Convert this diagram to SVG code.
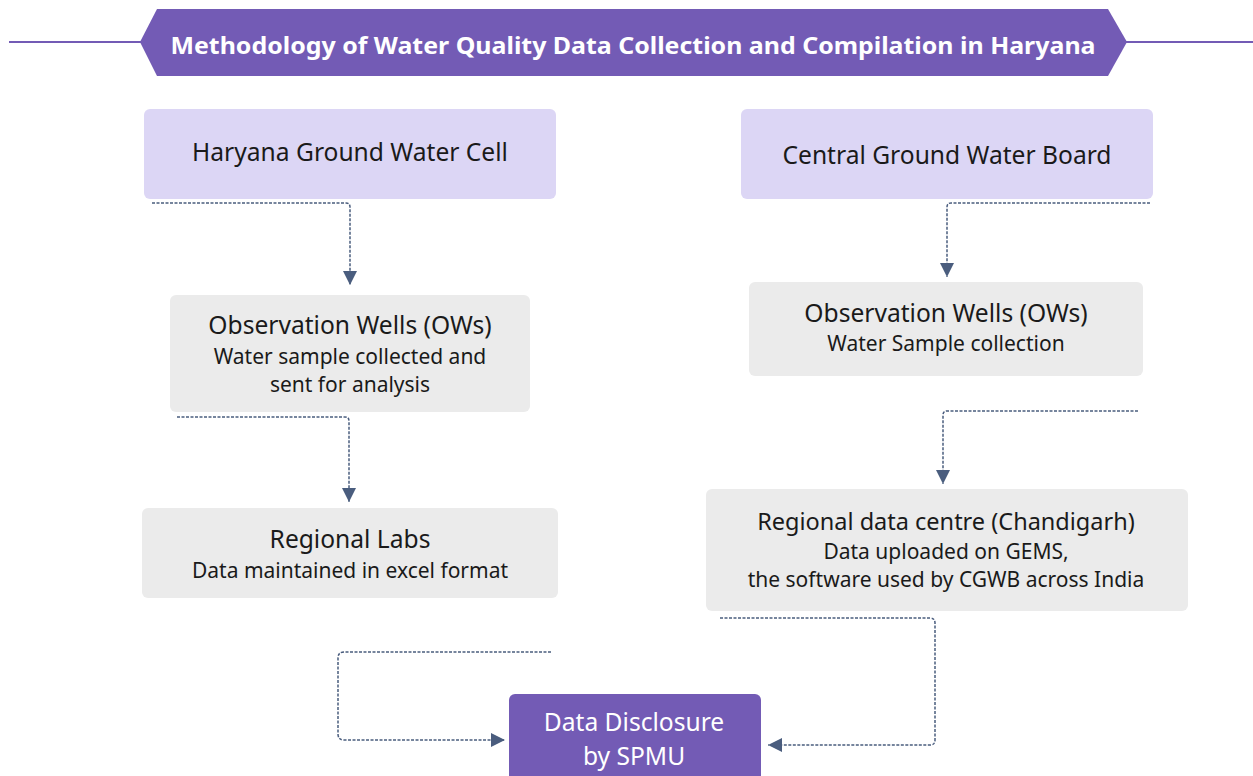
<svg xmlns="http://www.w3.org/2000/svg" width="1253" height="776" viewBox="0 0 1253 776">
<defs>
<style>
.t{font-family:"Noto Sans","Open Sans",sans-serif;fill:#1a1a1a;text-anchor:middle}
.h{font-size:24.6px}
.s{font-size:21px}
.lav{fill:#dcd6f5}
.gry{fill:#ebebeb}
.pur{fill:#735bb5}
.c{fill:none;stroke:#4a5d7e;stroke-width:1.5;stroke-dasharray:3 1.5}
</style>
<marker id="ah2" viewBox="0 0 14 14" refX="14" refY="7" markerWidth="14" markerHeight="14" markerUnits="userSpaceOnUse" orient="auto">
<path d="M0,0 L14,7 L0,14 Z" fill="#4a5d7e"/>
</marker>
</defs>
<rect width="1253" height="776" fill="#fff"/>
<g id="title">
<line x1="9" y1="42" x2="142" y2="42" stroke="#735bb5" stroke-width="2"/>
<line x1="1125" y1="42" x2="1253" y2="42" stroke="#735bb5" stroke-width="2"/>
<polygon points="140,42 157,9 1108,9 1127,42 1108,76 157,76" class="pur"/>
<text x="633" y="54" font-family="'Noto Sans','Open Sans',sans-serif" font-weight="bold" font-size="24" fill="#fff" text-anchor="middle" textLength="925" lengthAdjust="spacingAndGlyphs">Methodology of Water Quality Data Collection and Compilation in Haryana</text>
</g>
<g id="hgwc">
<rect x="144" y="109" width="412" height="90" rx="6" class="lav"/>
<text x="350" y="161" class="t h">Haryana Ground Water Cell</text>
</g>
<g id="cgwb">
<rect x="741" y="109" width="412" height="90" rx="6" class="lav"/>
<text x="947" y="164" class="t h">Central Ground Water Board</text>
</g>
<g id="ow-left">
<rect x="170" y="295" width="360" height="117" rx="6" class="gry"/>
<text x="350" y="334" class="t h">Observation Wells (OWs)</text>
<text x="350" y="364" class="t s">Water sample collected and</text>
<text x="350" y="392" class="t s">sent for analysis</text>
</g>
<g id="ow-right">
<rect x="749" y="282" width="394" height="94" rx="6" class="gry"/>
<text x="946" y="322" class="t h">Observation Wells (OWs)</text>
<text x="946" y="351" class="t s">Water Sample collection</text>
</g>
<g id="labs">
<rect x="142" y="508" width="416" height="90" rx="6" class="gry"/>
<text x="350" y="548" class="t h">Regional Labs</text>
<text x="350" y="578" class="t s">Data maintained in excel format</text>
</g>
<g id="rdc">
<rect x="706" y="489" width="482" height="122" rx="6" class="gry"/>
<text x="946" y="530" class="t" font-size="23.5">Regional data centre (Chandigarh)</text>
<text x="946" y="559" class="t s">Data uploaded on GEMS,</text>
<text x="946" y="587" class="t s">the software used by CGWB across India</text>
</g>
<g id="spmu">
<rect x="509" y="694" width="252" height="100" rx="6" class="pur"/>
<text x="634" y="731" class="t h" style="fill:#fff">Data Disclosure</text>
<text x="634" y="765" class="t h" style="fill:#fff">by SPMU</text>
</g>
<g id="connectors">
<path class="c" d="M152,203 H346 Q350,203 350,207 V285" marker-end="url(#ah2)"/>
<path class="c" d="M1150,203 H951 Q947,203 947,207 V277" marker-end="url(#ah2)"/>
<path class="c" d="M177,417 H345 Q349,417 349,421 V502" marker-end="url(#ah2)"/>
<path class="c" d="M1138,411 H947 Q943,411 943,415 V484" marker-end="url(#ah2)"/>
<path class="c" d="M720,618 H930 Q935,618 935,623 V740 Q935,745 930,745 H768" marker-end="url(#ah2)"/>
<path class="c" d="M551,652 H344 Q338,652 338,658 V734 Q338,740 344,740 H505" marker-end="url(#ah2)"/>
</g>
</svg>
